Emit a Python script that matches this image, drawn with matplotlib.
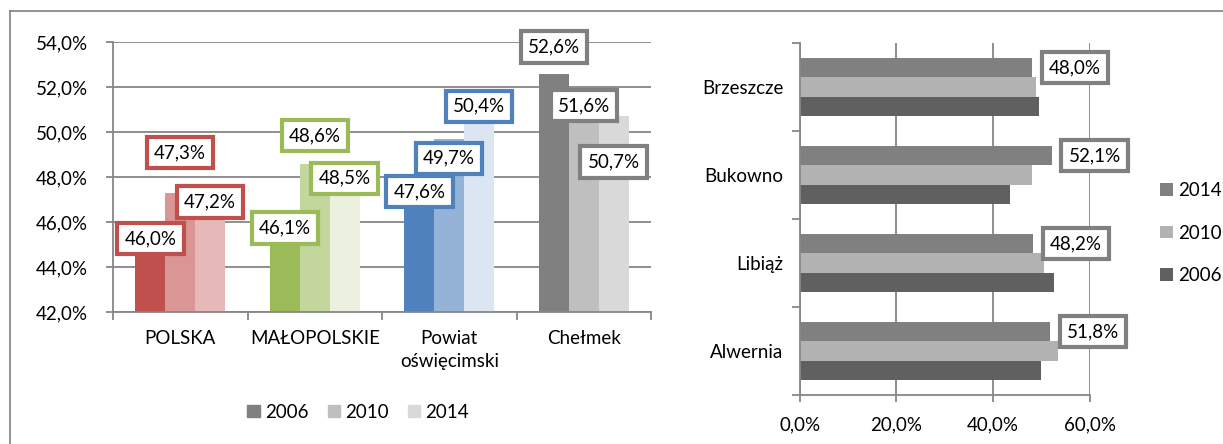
import numpy as np
import matplotlib.pyplot as plt
from matplotlib.lines import Line2D
from matplotlib.patches import Patch
from matplotlib.ticker import FuncFormatter

plt.rcParams['font.family'] = ['Lato', 'DejaVu Sans']

# left chart
regions = ['POLSKA', 'MAŁOPOLSKIE', 'Powiat\noświęcimski', 'Chełmek']
years = ['2006', '2010', '2014']
vals_2006 = [46.0, 46.1, 47.6, 52.6]
vals_2010 = [47.3, 48.6, 49.7, 51.6]
vals_2014 = [47.2, 48.5, 50.4, 50.7]

# right chart (top to bottom)
towns = ['Brzeszcze', 'Bukowno', 'Libiąż', 'Alwernia']
towns_2014 = [48.0, 52.1, 48.2, 51.8]
towns_2010 = [48.9, 48.1, 50.6, 53.4]
towns_2006 = [49.5, 43.6, 52.6, 49.9]

region_colors = [['#C0504D', '#D99694', '#E6B9B8'],
                 ['#9BBB59', '#C3D69B', '#EBF1DE'],
                 ['#4F81BD', '#95B3D7', '#DCE6F2'],
                 ['#808080', '#BFBFBF', '#D9D9D9']]
# vertical shift of each label box from the bar top, in points
label_dy = [[-12, 29, -5],
            [-6, 20, -9],
            [-4, -14, 12],
            [19, -7, -33]]

grid_c = '#868686'
fs = 13.5
pct = FuncFormatter(lambda v, p: f'{v:.1f}%'.replace('.', ','))

fig = plt.figure(figsize=(12.23, 4.44), dpi=100)

ax = fig.add_axes([0.0924, 0.2973, 0.4399, 0.6081])
w = 0.222
series = [vals_2006, vals_2010, vals_2014]
for j, s in enumerate(series):
    x = np.arange(len(regions)) + 0.5 + (j - 1) * w
    cols = [region_colors[i][j] for i in range(len(regions))]
    ax.bar(x, np.array(s) - 42, bottom=42, width=w, color=cols, zorder=2)
    for i in range(len(regions)):
        ax.annotate(f'{s[i]:.1f}%'.replace('.', ','), (x[i], s[i]),
                    xytext=(0, label_dy[i][j]), textcoords='offset points',
                    ha='center', va='center', fontsize=fs, zorder=5,
                    bbox=dict(boxstyle='square,pad=0.38', fc='white',
                              ec=region_colors[i][0], lw=3))
ax.set_ylim(42, 54)
ax.set_xlim(0, 4)
ax.set_yticks(np.arange(42, 55, 2))
ax.yaxis.set_major_formatter(pct)
ax.yaxis.grid(True, color=grid_c, lw=1.3, zorder=0)
ax.set_xticks([0, 1, 2, 3, 4])
ax.set_xticklabels([])
ax.set_xticks(np.arange(4) + 0.5, minor=True)
ax.set_xticklabels(regions, minor=True, fontsize=fs, linespacing=1.45)
ax.tick_params(axis='x', which='minor', length=0, pad=13)
ax.tick_params(axis='x', which='major', length=6, color=grid_c, width=1.3)
ax.tick_params(axis='y', length=5, color=grid_c, width=1.3, labelsize=fs, pad=13)
for sp in ['top', 'right']:
    ax.spines[sp].set_visible(False)
for sp in ['left', 'bottom']:
    ax.spines[sp].set_color(grid_c)
    ax.spines[sp].set_linewidth(1.3)

leg_l = [Patch(color=c) for c in ['#808080', '#BFBFBF', '#D9D9D9']]
fig.legend(leg_l, years, loc='center', bbox_to_anchor=(0.293, 0.072), ncol=3,
           frameon=False, fontsize=fs, handlelength=0.65, handleheight=0.65,
           handletextpad=0.3, columnspacing=1.0)

# right chart
ax2 = fig.add_axes([0.654, 0.110, 0.237, 0.793])
h = 0.22
y = np.arange(len(towns))[::-1]
ax2.barh(y + h, towns_2014, height=h, color='#808080', zorder=2, label='2014')
ax2.barh(y, towns_2010, height=h, color='#B2B2B2', zorder=2, label='2010')
ax2.barh(y - h, towns_2006, height=h, color='#606060', zorder=2, label='2006')
for i in range(len(towns)):
    ax2.annotate(f'{towns_2014[i]:.1f}%'.replace('.', ','), (towns_2014[i], y[i] + h),
                 xytext=(31, 0), textcoords='offset points',
                 ha='center', va='center', fontsize=fs, zorder=5,
                 bbox=dict(boxstyle='square,pad=0.38', fc='white', ec='#808080', lw=3))
ax2.set_xlim(0, 60)
ax2.set_ylim(-0.5, 3.5)
ax2.set_xticks([0, 20, 40, 60])
ax2.xaxis.set_major_formatter(pct)
ax2.xaxis.grid(True, color=grid_c, lw=1.3, zorder=0)
ax2.set_yticks(np.arange(-0.5, 4, 1))
ax2.set_yticklabels([])
ax2.set_yticks(y, minor=True)
ax2.set_yticklabels(towns, minor=True, fontsize=fs)
ax2.tick_params(axis='y', which='minor', length=0, pad=12)
ax2.tick_params(axis='y', which='major', length=6, color=grid_c, width=1.3)
ax2.tick_params(axis='x', length=5, color=grid_c, width=1.3, labelsize=fs, pad=10)
for sp in ['top', 'right']:
    ax2.spines[sp].set_visible(False)
for sp in ['left', 'bottom']:
    ax2.spines[sp].set_color(grid_c)
    ax2.spines[sp].set_linewidth(1.3)
ax2.legend(loc='center left', bbox_to_anchor=(0.935, 0.475), bbox_transform=fig.transFigure,
           frameon=False, fontsize=fs, handlelength=0.65, handleheight=0.65,
           handletextpad=0.3, labelspacing=1.35)

# outer frame
fig.add_artist(Line2D([0.008, 1.0], [0.975, 0.975], color='#808080', lw=1.2))
fig.add_artist(Line2D([0.008, 0.008], [0.0, 0.975], color='#808080', lw=1.2))

plt.savefig('out.png', dpi=100)
